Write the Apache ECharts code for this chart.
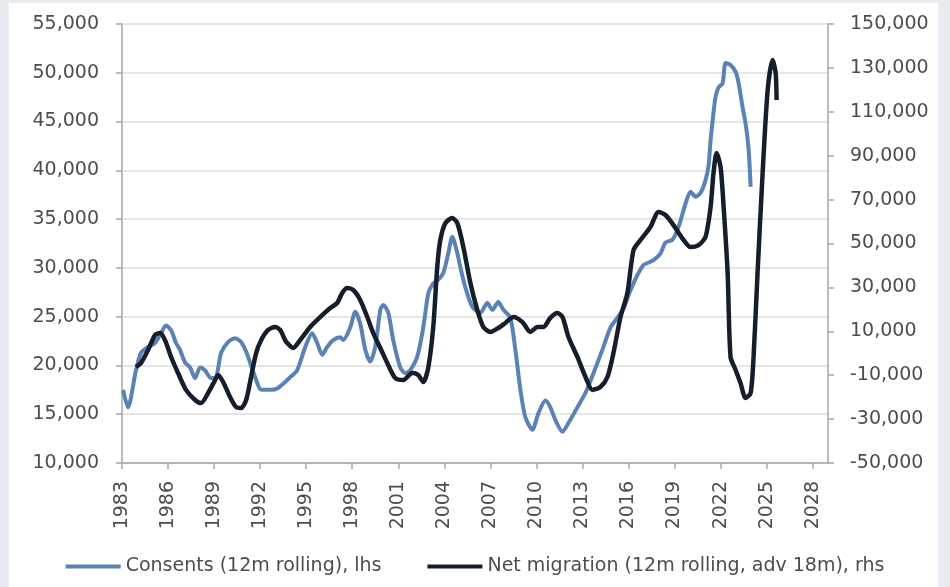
<!DOCTYPE html>
<html>
<head>
<meta charset="utf-8">
<script src="https://cdn.jsdelivr.net/npm/echarts@6/dist/echarts.min.js"></script>
<style>
html,body{margin:0;padding:0;width:950px;height:587px;background:#e8ecf0;overflow:hidden;}
#panel{position:absolute;left:9px;top:3px;width:929px;height:584px;background:#ffffff;}
#chart{position:absolute;left:0;top:0;width:950px;height:587px;}
</style>
</head>
<body>
<div id="panel"></div>
<div id="chart"></div>
<script>
// Consents (12m rolling), lhs
const consentsYears = [1983.07,1983.39,1983.91,1984.24,1984.70,1985.15,1985.54,1985.87,1986.20,1986.52,1986.78,1987.11,1987.43,1987.76,1988.09,1988.41,1988.80,1989.13,1989.46,1989.91,1990.37,1990.76,1991.09,1991.41,1991.74,1992.07,1992.72,1993.17,1993.63,1993.96,1994.41,1994.94,1995.39,1995.72,1996.04,1996.37,1996.76,1997.22,1997.41,1997.87,1998.20,1998.52,1998.85,1999.17,1999.50,1999.83,2000.02,2000.35,2000.67,2001.13,2001.46,2001.78,2002.24,2002.63,2002.96,2003.28,2003.61,2003.94,2004.26,2004.52,2004.85,2005.04,2005.37,2005.83,2006.35,2006.80,2007.13,2007.52,2007.85,2008.30,2008.63,2008.96,2009.28,2009.74,2010.13,2010.59,2010.91,2011.24,2011.70,2012.09,2012.67,2013.20,2013.72,2014.30,2014.83,2015.28,2015.70,2016.13,2016.59,2016.98,2017.24,2017.63,2018.09,2018.41,2018.87,2019.26,2019.72,2020.04,2020.37,2020.70,2021.02,2021.22,2021.35,2021.54,2021.67,2021.87,2022.13,2022.33,2022.65,2022.98,2023.17,2023.43,2023.63,2023.83,2023.96];
const consentsValues = [17500,15700,19500,21300,21900,22300,23300,24100,23600,22300,21600,20300,19800,18700,19800,19500,18700,18800,21300,22400,22800,22400,21400,20000,18500,17500,17500,17700,18300,18800,19500,21900,23300,22300,21100,21900,22600,22900,22600,23900,25500,24300,21600,20400,21900,25700,26200,25400,22600,19800,19200,19500,20900,23900,27400,28400,28800,29500,31500,33200,31500,30100,28000,26000,25400,26400,25700,26500,25700,24900,21600,17500,14700,13400,15100,16400,15700,14400,13200,14100,15700,17200,19200,21600,23900,24900,25900,27700,29300,30300,30500,30800,31500,32600,32900,34200,36600,37800,37300,37700,39000,40500,43100,45900,47500,48500,48900,51000,50800,50100,49000,46500,44800,42100,38300];

// Net migration (12m rolling, adv 18m), rhs
const migrationYears = [1983.91,1984.24,1984.70,1985.15,1985.48,1985.80,1986.20,1986.65,1987.17,1987.76,1988.15,1988.61,1989.07,1989.26,1989.59,1990.04,1990.43,1990.76,1991.09,1991.41,1991.74,1992.07,1992.52,1992.98,1993.30,1993.63,1993.76,1994.15,1994.61,1995.26,1995.91,1996.57,1997.02,1997.35,1997.67,1998.07,1998.52,1998.98,1999.37,1999.83,2000.28,2000.80,2001.33,2001.91,2002.30,2002.63,2002.96,2003.28,2003.54,2003.74,2004.07,2004.52,2004.85,2005.24,2005.70,2006.15,2006.54,2007.00,2007.52,2007.98,2008.50,2009.09,2009.61,2010.07,2010.46,2010.91,2011.37,2011.70,2012.09,2012.67,2013.20,2013.65,2014.17,2014.63,2015.02,2015.48,2015.93,2016.33,2016.78,2017.43,2017.96,2018.41,2018.93,2019.59,2020.04,2020.57,2021.02,2021.35,2021.54,2021.74,2022.00,2022.20,2022.46,2022.65,2022.98,2023.30,2023.63,2023.96,2024.15,2024.41,2024.74,2025.07,2025.39,2025.59,2025.65];
const migrationValues = [-6300,-4400,1500,8300,9200,6000,-1700,-9000,-16700,-21300,-22700,-18100,-12200,-9900,-13100,-19900,-24500,-24900,-21300,-10800,100,6000,10600,12000,10600,6000,4700,2400,6000,12000,16500,20600,22900,27500,29700,28800,24300,16500,9200,2400,-4400,-11300,-12200,-9000,-9900,-13100,-6300,12000,39300,51600,59300,61600,59300,48400,32000,19700,12000,9700,11500,13800,16500,14200,9700,12000,12000,16100,18300,16500,7400,-1700,-10800,-16700,-15400,-10800,100,16500,27500,47000,51600,57500,64400,63000,58400,51600,48400,49300,53000,66600,82100,91200,84900,66600,36600,-1700,-7600,-13600,-20400,-18100,-1700,36600,82100,119900,133600,127700,115400];

// Axis ticks
const xMin = 1983, xMax = 2029, xStep = 3;
const leftMin = 10000, leftMax = 55000, leftStep = 5000;
const rightMin = -50000, rightMax = 150000, rightStep = 20000;

const seriesNames = ['Consents (12m rolling), lhs', 'Net migration (12m rolling, adv 18m), rhs'];

const zip = (a, b) => a.map((v, i) => [v, b[i]]);
const fmt = v => Math.round(v).toLocaleString('en-US');

const FONT = '"DejaVu Sans", sans-serif';
const TEXT = '#4d4d4d';
const labelStyle = { color: TEXT, fontFamily: FONT, fontSize: 19 };
const axisLineStyle = { color: '#a6a6a6', width: 1.5 };

const chart = echarts.init(document.getElementById('chart'), null, { renderer: 'canvas' });
chart.setOption({
  backgroundColor: 'transparent',
  animation: false,
  grid: { left: 122, right: 122, top: 24, bottom: 124, containLabel: false },
  legend: {
    bottom: 6,
    left: 'center',
    itemWidth: 55,
    itemHeight: 4,
    itemGap: 46,
    icon: 'rect',
    textStyle: { color: TEXT, fontFamily: FONT, fontSize: 19 },
    data: seriesNames
  },
  xAxis: {
    type: 'value',
    min: xMin, max: xMax, interval: xStep,
    splitLine: { show: false },
    axisLine: { onZero: false, lineStyle: axisLineStyle },
    axisTick: { show: true, length: 6, lineStyle: axisLineStyle },
    axisLabel: Object.assign({}, labelStyle, {
      rotate: 90, margin: 18, showMaxLabel: false,
      formatter: v => String(v)
    })
  },
  yAxis: [
    {
      type: 'value', position: 'left',
      min: leftMin, max: leftMax, interval: leftStep,
      axisLine: { show: true, onZero: false, lineStyle: axisLineStyle },
      axisTick: { show: true, length: 6, lineStyle: axisLineStyle },
      splitLine: { show: true, lineStyle: { color: '#dedede', width: 1.5 } },
      axisLabel: Object.assign({}, labelStyle, { margin: 23, formatter: fmt })
    },
    {
      type: 'value', position: 'right',
      min: rightMin, max: rightMax, interval: rightStep,
      axisLine: { show: true, onZero: false, lineStyle: axisLineStyle },
      axisTick: { show: true, length: 6, lineStyle: axisLineStyle },
      splitLine: { show: false },
      axisLabel: Object.assign({}, labelStyle, { margin: 22, formatter: fmt })
    }
  ],
  series: [
    {
      name: seriesNames[0], type: 'line', yAxisIndex: 0,
      data: zip(consentsYears, consentsValues),
      showSymbol: false, smooth: 0.25,
      lineStyle: { color: '#5a82b4', width: 4 },
      itemStyle: { color: '#5a82b4' }
    },
    {
      name: seriesNames[1], type: 'line', yAxisIndex: 1,
      data: zip(migrationYears, migrationValues),
      showSymbol: false, smooth: 0.25,
      lineStyle: { color: '#171e2b', width: 4.5 },
      itemStyle: { color: '#171e2b' }
    }
  ]
});
</script>
</body>
</html>
